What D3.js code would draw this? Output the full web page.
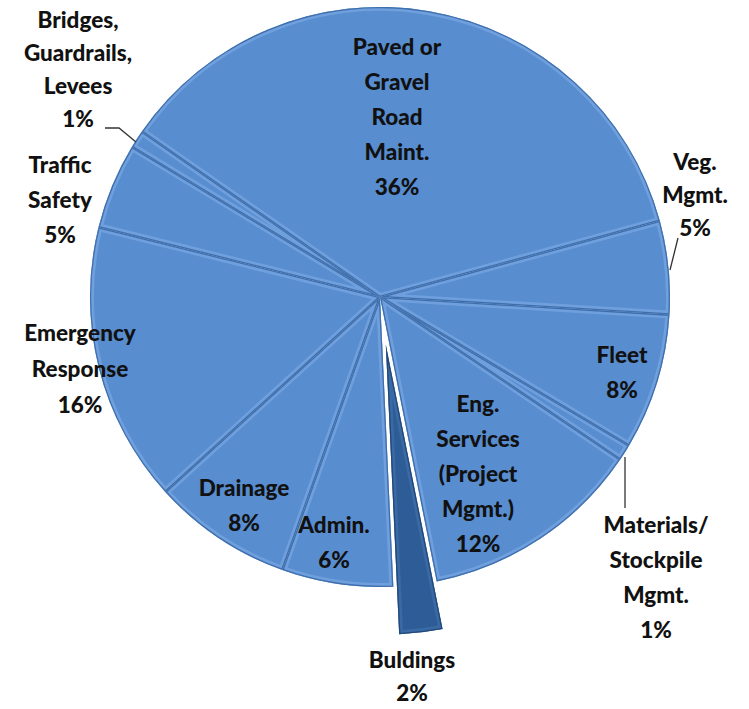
<!DOCTYPE html>
<html><head><meta charset="utf-8">
<script src="https://cdn.jsdelivr.net/npm/d3@7/dist/d3.min.js"></script>
<style>
html,body{margin:0;padding:0;background:#fff;}
svg{display:block;}
text{font-family:Lato,"Open Sans",sans-serif;font-weight:900;fill:#111;}
</style></head>
<body>
<script>
// ---- data ----
const categories = ["Paved or Gravel Road Maint.","Veg. Mgmt.","Fleet","Materials/ Stockpile Mgmt.","Eng. Services (Project Mgmt.)","Buldings","Admin.","Drainage","Emergency Response","Traffic Safety","Bridges, Guardrails, Levees"];
const values = [36.1, 5.2, 7.6, 0.9, 12.4, 2.4, 6.2, 7.8, 15.6, 4.8, 1.0];
const percentLabels = ["36%","5%","8%","1%","12%","2%","6%","8%","16%","5%","1%"];
const labelLines = [
  ["Paved or","Gravel","Road","Maint."],
  ["Veg.","Mgmt."],
  ["Fleet"],
  ["Materials/","Stockpile","Mgmt."],
  ["Eng.","Services","(Project","Mgmt.)"],
  ["Buldings"],
  ["Admin."],
  ["Drainage"],
  ["Emergency","Response"],
  ["Traffic","Safety"],
  ["Bridges,","Guardrails,","Levees"]
];
const exploded = ["Buldings"];

// ---- layout ----
const W = 749, H = 709;
const cx = 380, cy = 297, R = 290;
const startDeg = -55.2;
const explodeDist = 48;
const labelPos = [
  {x:397,y:55,lh:35},
  {x:695,y:170,lh:33},
  {x:622,y:363,lh:35},
  {x:656,y:533,lh:35},
  {x:478,y:412,lh:35},
  {x:412,y:668,lh:33},
  {x:334,y:533,lh:35},
  {x:244,y:496,lh:35},
  {x:80,y:341,lh:36},
  {x:60,y:173,lh:35},
  {x:78,y:28,lh:33}
];
const leaders = {
  1: [[678,238],[670,270]],
  3: [[625,508],[625,457]],
  10: [[105,128],[119,128],[136,142]]
};

const svg = d3.select("body").append("svg").attr("width",W).attr("height",H);
const defs = svg.append("defs");
const g = svg.append("g").attr("transform",`translate(${cx},${cy})`);

const pie = d3.pie().sort(null).value(d=>d)
  .startAngle(startDeg*Math.PI/180).endAngle((startDeg+360)*Math.PI/180);
const arcs = pie(values);
const arc = d3.arc().innerRadius(0).outerRadius(R);

arcs.forEach((a,i)=>{
  const isEx = exploded.includes(categories[i]);
  const mid = (a.startAngle+a.endAngle)/2;
  const dx = isEx ? explodeDist*Math.sin(mid) : 0;
  const dy = isEx ? -explodeDist*Math.cos(mid) : 0;
  const sg = g.append("g").attr("transform",`translate(${dx},${dy})`);
  const id = "clip"+i;
  defs.append("clipPath").attr("id",id).append("path")
    .attr("d",arc(a)).attr("transform",`translate(${cx+dx},${cy+dy})`);
  const fill = isEx ? "#2d5c96" : "#588dd0";
  const hi = isEx ? "#4777b3" : "#86b3ea";
  const edge = isEx ? "#1f4573" : "#3a69a6";
  sg.append("path").attr("d",arc(a)).attr("fill",fill);
  const bev = svg.append("g").attr("clip-path",`url(#${id})`);
  bev.append("path").attr("d",arc(a)).attr("transform",`translate(${cx+dx},${cy+dy})`)
    .attr("fill","none").attr("stroke",hi).attr("stroke-width",8).attr("opacity",0.5);
  bev.append("path").attr("d",arc(a)).attr("transform",`translate(${cx+dx},${cy+dy})`)
    .attr("fill","none").attr("stroke",edge).attr("stroke-width",2.6).attr("opacity",0.9);
});

labelLines.forEach((lines,i)=>{
  const p = labelPos[i];
  const all = lines.concat([percentLabels[i]]);
  const t = svg.append("text").attr("text-anchor","middle").attr("font-size",22.5);
  all.forEach((ln,k)=>{
    t.append("tspan").attr("x",p.x).attr("y",p.y+k*p.lh).text(ln);
  });
});

Object.entries(leaders).forEach(([i,pts])=>{
  svg.append("path").attr("d",d3.line()(pts)).attr("fill","none")
    .attr("stroke","#333").attr("stroke-width",1.3);
});
</script>
</body></html>
